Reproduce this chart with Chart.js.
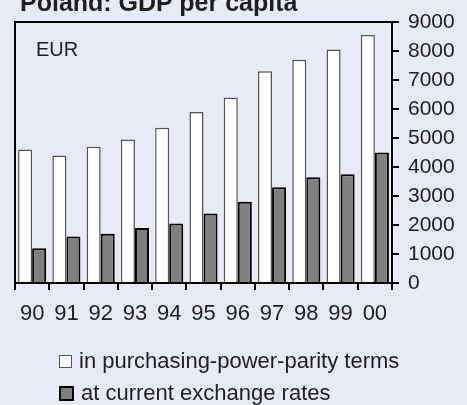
<!DOCTYPE html>
<html>
<head>
<meta charset="utf-8">
<script src="https://cdn.jsdelivr.net/npm/chart.js@4/dist/chart.umd.min.js"></script>
<style>
  body { margin: 0; background: #e8eaf6; font-family: "Liberation Sans", Arial, sans-serif; color: #1e1e1e; }
  #wrap { position: relative; width: 467px; height: 405px; overflow: hidden; }
  #titulo { position: absolute; left: 20px; top: -10px; font-size: 25px; font-weight: bold; line-height: 25px; white-space: nowrap; }
  #unidade { position: absolute; left: 36px; top: 38px; font-size: 20px; line-height: 22px; }
  #legenda { position: absolute; left: 59px; top: 345px; font-size: 22px; }
  .item { display: flex; align-items: center; height: 32px; }
  .caixa { width: 11px; height: 11px; margin-right: 7px; }
</style>
</head>
<body>
<div id="wrap">
  <canvas id="grafico" width="467" height="405"></canvas>
  <div id="titulo">Poland: GDP per capita</div>
  <div id="unidade">EUR</div>
  <div id="legenda"></div>
</div>
<script>
const anos = ['90', '91', '92', '93', '94', '95', '96', '97', '98', '99', '00'];
const ppp = [4600, 4400, 4700, 4950, 5350, 5900, 6400, 7300, 7700, 8050, 8550];
const cambio = [1200, 1600, 1700, 1900, 2050, 2400, 2800, 3300, 3650, 3750, 4500];
const nomes = ['in purchasing-power-parity terms', 'at current exchange rates'];

const moldura = {
  id: 'moldura',
  afterDraw(chart) {
    const { ctx, chartArea: a } = chart;
    ctx.save();
    ctx.strokeStyle = '#000';
    ctx.lineWidth = 2;
    ctx.beginPath();
    ctx.moveTo(a.left, a.bottom);
    ctx.lineTo(a.left, a.top);
    ctx.lineTo(a.right, a.top);
    ctx.stroke();
    ctx.restore();
  }
};

const chart = new Chart(grafico, {
  type: 'bar',
  data: {
    labels: anos,
    datasets: [{
      label: nomes[0],
      data: ppp,
      backgroundColor: '#ffffff',
      borderColor: '#555555',
      borderWidth: 1.5
    }, {
      label: nomes[1],
      data: cambio,
      backgroundColor: '#808080',
      borderColor: '#000000',
      borderWidth: 2
    }]
  },
  options: {
    responsive: false,
    animation: false,
    layout: { padding: { left: 15, top: 22, right: 0, bottom: 72 } },
    datasets: { bar: { categoryPercentage: 0.82, barPercentage: 1 } },
    plugins: { legend: { display: false }, tooltip: { enabled: false } },
    scales: {
      x: {
        afterFit: s => { s.height = 50; },
        border: { color: '#000', width: 2 },
        grid: { drawOnChartArea: false, color: '#000', lineWidth: 2, tickLength: 7 },
        ticks: { autoSkip: false, maxRotation: 0, color: '#1e1e1e', padding: 11, font: { family: 'Liberation Sans', size: 22 } }
      },
      y: {
        position: 'right',
        min: 0,
        max: 9000,
        afterFit: s => { s.width = 75; },
        border: { color: '#000', width: 2 },
        grid: { drawOnChartArea: false, color: '#000', lineWidth: 2, tickLength: 7 },
        ticks: {
          stepSize: 1000,
          autoSkip: false,
          color: '#1e1e1e',
          padding: 9,
          font: { family: 'Liberation Sans', size: 21 },
          callback: v => String(v)
        }
      }
    }
  },
  plugins: [moldura]
});

// legenda em html
chart.data.datasets.forEach(d => {
  legenda.innerHTML += `
    <div class="item">
      <span class="caixa" style="background:${d.backgroundColor}; border:${d.borderWidth}px solid ${d.borderColor}"></span>
      <span>${d.label}</span>
    </div>`;
});
</script>
</body>
</html>
